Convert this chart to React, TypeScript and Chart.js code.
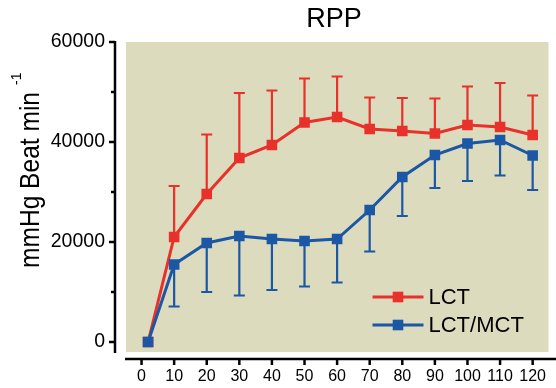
import { useEffect, useRef } from 'react';
import { Chart, registerables } from 'chart.js';

Chart.register(...registerables);

const times = [2, 10, 20, 30, 40, 50, 60, 70, 80, 90, 100, 110, 120];
const lctMean = [0, 21000, 29600, 36800, 39400, 43900, 45000, 42600, 42200, 41700, 43400, 43000, 41400];
const lctErr = [0, 10200, 11900, 13000, 10900, 8800, 8100, 6300, 6600, 7000, 7700, 8800, 7900];
const mctMean = [0, 15500, 19800, 21200, 20600, 20200, 20600, 26400, 33000, 37400, 39700, 40400, 37300];
const mctErr = [0, 8400, 9800, 11900, 10200, 9100, 8700, 8300, 7800, 6600, 7500, 7100, 6900];
const xTickValues = [0, 10, 20, 30, 40, 50, 60, 70, 80, 90, 100, 110, 120];
const yTickValues = [0, 10000, 20000, 30000, 40000, 50000, 60000];
const yLabelValues = [0, 20000, 40000, 60000];
const seriesNames = ['LCT', 'LCT/MCT'];
const chartTitle = 'RPP';
const yTitle = 'mmHg Beat min';
const ySup = '-1';

const RED = '#e8312a';
const BLUE = '#1b57a5';
const BG = '#dcdbbd';
const FONT = 'Arial, "Liberation Sans", sans-serif';

const customPlugin = {
  id: 'custom',
  beforeDraw(chart: any) {
    const { ctx, chartArea: a } = chart;
    ctx.save();
    ctx.fillStyle = BG;
    ctx.fillRect(a.left, a.top, a.right - a.left, a.bottom - a.top);
    ctx.restore();
  },
  beforeDatasetsDraw(chart: any) {
    const { ctx } = chart;
    const xs = chart.scales.x;
    const ys = chart.scales.y;
    const drawErr = (means: number[], errs: number[], dir: number, color: string) => {
      ctx.save();
      ctx.strokeStyle = color;
      ctx.lineWidth = 2.2;
      for (let i = 0; i < times.length; i++) {
        if (errs[i] <= 0) continue;
        const px = xs.getPixelForValue(times[i]);
        const p0 = ys.getPixelForValue(means[i]);
        const p1 = ys.getPixelForValue(means[i] + dir * errs[i]);
        ctx.beginPath();
        ctx.moveTo(px, p0);
        ctx.lineTo(px, p1);
        ctx.moveTo(px - 5.5, p1);
        ctx.lineTo(px + 5.5, p1);
        ctx.stroke();
      }
      ctx.restore();
    };
    drawErr(lctMean, lctErr, 1, RED);
    drawErr(mctMean, mctErr, -1, BLUE);
  },
  afterDraw(chart: any) {
    const { ctx, chartArea: a } = chart;
    const xs = chart.scales.x;
    const ys = chart.scales.y;
    ctx.save();
    ctx.strokeStyle = '#000';
    ctx.lineWidth = 2.5;
    // y axis
    const ax = a.left - 11;
    ctx.beginPath();
    ctx.moveTo(ax, ys.getPixelForValue(60000) - 1);
    ctx.lineTo(ax, a.bottom + 1);
    ctx.stroke();
    for (const v of yTickValues) {
      const py = ys.getPixelForValue(v);
      const len = yLabelValues.includes(v) ? 6 : 4;
      ctx.beginPath();
      ctx.moveTo(ax - len, py);
      ctx.lineTo(ax, py);
      ctx.stroke();
    }
    // x axis
    const ay = a.bottom + 7;
    ctx.beginPath();
    ctx.moveTo(a.left - 1, ay);
    ctx.lineTo(chart.width, ay);
    ctx.stroke();
    for (const v of xTickValues) {
      const px = xs.getPixelForValue(v);
      ctx.beginPath();
      ctx.moveTo(px, ay);
      ctx.lineTo(px, ay + 6);
      ctx.stroke();
    }
    // title
    ctx.fillStyle = '#000';
    ctx.font = `27px ${FONT}`;
    ctx.textAlign = 'center';
    ctx.textBaseline = 'alphabetic';
    ctx.fillText(chartTitle, 334, 27);
    // y title
    ctx.save();
    ctx.translate(39, 268);
    ctx.rotate(-Math.PI / 2);
    ctx.font = `28px ${FONT}`;
    const w = ctx.measureText(yTitle).width;
    const sx = 176 / w;
    ctx.save();
    ctx.scale(sx, 1);
    ctx.textAlign = 'left';
    ctx.fillText(yTitle, 0, 0);
    ctx.restore();
    ctx.font = `14px ${FONT}`;
    ctx.textAlign = 'left';
    ctx.fillText(ySup, 183, -18);
    ctx.restore();
    // legend
    const colors = [RED, BLUE];
    const lx0 = a.right - 176;
    const lx1 = a.right - 125;
    const ly = [a.bottom - 55, a.bottom - 27];
    for (let i = 0; i < 2; i++) {
      ctx.strokeStyle = colors[i];
      ctx.fillStyle = colors[i];
      ctx.lineWidth = 3;
      ctx.beginPath();
      ctx.moveTo(lx0, ly[i]);
      ctx.lineTo(lx1, ly[i]);
      ctx.stroke();
      const mx = (lx0 + lx1) / 2;
      ctx.fillRect(mx - 5.3, ly[i] - 5.3, 10.6, 10.6);
      ctx.fillStyle = '#000';
      ctx.font = `22px ${FONT}`;
      ctx.textAlign = 'left';
      ctx.textBaseline = 'middle';
      ctx.fillText(seriesNames[i], lx1 + 5, ly[i] + 1);
    }
    ctx.restore();
  },
};

export default function App() {
  const ref = useRef<HTMLCanvasElement | null>(null);
  useEffect(() => {
    if (!ref.current) return;
    const chart = new Chart(ref.current, {
      type: 'line',
      data: {
        datasets: [
          {
            label: seriesNames[0],
            data: times.map((t, i) => ({ x: t, y: lctMean[i] })),
            borderColor: RED,
            backgroundColor: RED,
            borderWidth: 3,
            pointStyle: 'rect',
            pointRadius: 7.5,
            pointBorderWidth: 0,
            tension: 0,
            order: 1,
          },
          {
            label: seriesNames[1],
            data: times.map((t, i) => ({ x: t, y: mctMean[i] })),
            borderColor: BLUE,
            backgroundColor: BLUE,
            borderWidth: 3,
            pointStyle: 'rect',
            pointRadius: 7.5,
            pointBorderWidth: 0,
            tension: 0,
            order: 0,
          },
        ],
      },
      options: {
        responsive: false,
        animation: false,
        devicePixelRatio: 1,
        layout: { padding: { top: 42, right: 3, left: 0, bottom: 0 } },
        plugins: { legend: { display: false }, tooltip: { enabled: false }, title: { display: false } },
        scales: {
          x: {
            type: 'linear',
            min: -4.77,
            max: 124.86,
            grid: { display: false },
            border: { display: false },
            afterBuildTicks: (s: any) => {
              s.ticks = xTickValues.map((v) => ({ value: v }));
            },
            afterFit: (s: any) => {
              s.height = 36;
              s.paddingLeft = 0;
              s.paddingRight = 0;
            },
            ticks: {
              autoSkip: false,
              maxRotation: 0,
              padding: 7,
              color: '#000',
              font: { family: FONT, size: 16 },
              callback: (v: any) => String(v),
            },
          },
          y: {
            type: 'linear',
            min: -2000,
            max: 60000,
            grid: { display: false },
            border: { display: false },
            afterBuildTicks: (s: any) => {
              s.ticks = yTickValues.map((v) => ({ value: v }));
            },
            afterFit: (s: any) => {
              s.width = 126;
              s.paddingTop = 0;
              s.paddingBottom = 0;
            },
            ticks: {
              autoSkip: false,
              padding: 13,
              color: '#000',
              font: { family: FONT, size: 19.5 },
              callback: (v: any) => (yLabelValues.includes(v) ? String(v) : ''),
            },
          },
        },
      },
      plugins: [customPlugin],
    } as any);
    return () => chart.destroy();
  }, []);
  return (
    <div style={{ position: 'absolute', left: 0, top: 0, width: 556, height: 388 }}>
      <canvas ref={ref} width={556} height={388} style={{ width: 556, height: 388 }} />
    </div>
  );
}
